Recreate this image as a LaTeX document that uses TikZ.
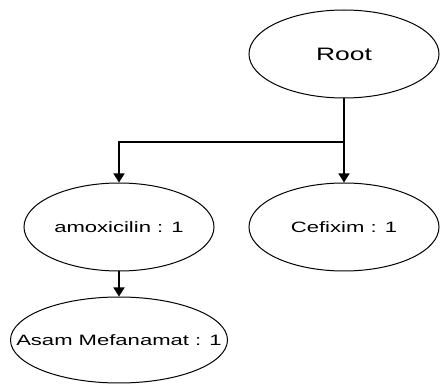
\documentclass[tikz,border=0pt]{standalone}
\usepackage{fontspec}
\setmainfont{Liberation Sans}
\usetikzlibrary{shapes.geometric,arrows.meta}
\tikzset{
  oval/.style={draw=black, line width=1pt, ellipse, inner sep=0pt, minimum width=190pt, minimum height=88pt},
  conn/.style={draw=black, line width=1.5pt, -{Triangle[width=11pt,length=9pt]}},
}
\newcommand{\wtext}[2]{\fontsize{#1}{#1}\selectfont\scalebox{1.47}[1]{#2}}
\begin{document}
\begin{tikzpicture}[x=1pt,y=-1pt]
\useasboundingbox (0,0) rectangle (440,385);
\node[oval] (root) at (344,54) {\wtext{18pt}{Root}};
\node[oval] (amox) at (119,227) {\wtext{15pt}{amoxicilin : 1}};
\node[oval] (cef) at (344,227) {\wtext{15pt}{Cefixim : 1}};
\node[oval, minimum width=217pt, minimum height=86pt, label={[inner sep=0pt]center:\wtext{15pt}{Asam Mefanamat : 1}}] (asam) at (119,340) {};
\coordinate (br) at (344,142);
\draw[conn] (root.south) -- (cef.north);
\draw[conn] (br) -| (amox.north);
\draw[conn] (amox.south) -- (asam.north);
\end{tikzpicture}
\end{document}
